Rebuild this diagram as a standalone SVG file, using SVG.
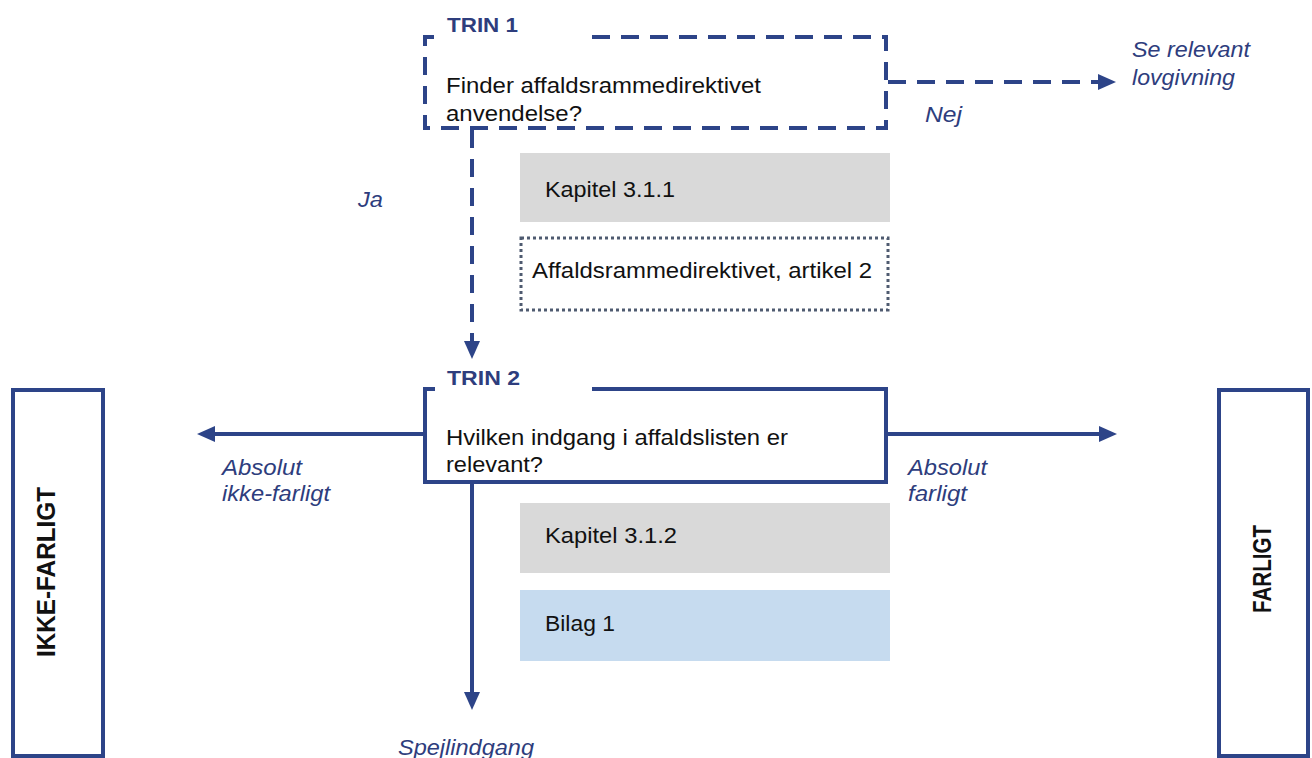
<svg xmlns="http://www.w3.org/2000/svg" width="1312" height="758" viewBox="0 0 1312 758">
  <style>
    .txt { font-family: "Liberation Sans", Arial, sans-serif; font-size: 22px; fill: #111111; }
    .step { font-family: "Liberation Sans", Arial, sans-serif; font-size: 21px; font-weight: bold; fill: #2e3d7d; }
    .lbl { font-family: "Liberation Sans", Arial, sans-serif; font-size: 22px; font-style: italic; fill: #2e3d7d; }
    .side { font-family: "Liberation Sans", Arial, sans-serif; font-size: 25px; font-weight: bold; fill: #111111; }
    .frame { fill: #ffffff; stroke: #2d4488; stroke-width: 4; }
    .edge { fill: none; stroke: #2d4488; stroke-width: 4; }
    .dash { stroke-dasharray: 18 11; }
    .grey { fill: #d9d9d9; }
    .blue { fill: #c6dbef; }
    .dotted { fill: #ffffff; stroke: #4f5b70; stroke-width: 3; stroke-dasharray: 3 3; }
  </style>
  <defs>
    <marker id="head" markerUnits="userSpaceOnUse" markerWidth="18" markerHeight="16" refX="0" refY="8" orient="auto" viewBox="0 0 18 16">
      <path d="M0,0 L18,8 L0,16 Z" fill="#2d4488"/>
    </marker>
  </defs>

  <rect width="1312" height="758" fill="#ffffff"/>

  <!-- outcome columns -->
  <g id="ikke-farligt">
    <rect class="frame" x="13" y="390" width="90" height="366"/>
    <text class="side" transform="translate(55,572) rotate(-90)" text-anchor="middle" textLength="170" lengthAdjust="spacingAndGlyphs">IKKE-FARLIGT</text>
  </g>
  <g id="farligt">
    <rect class="frame" x="1219" y="390" width="89" height="366"/>
    <text class="side" transform="translate(1271,569) rotate(-90)" text-anchor="middle" textLength="88" lengthAdjust="spacingAndGlyphs">FARLIGT</text>
  </g>

  <!-- step 1 -->
  <g id="trin1">
    <path class="edge dash" d="M592,37 H886 V128 H425 V37 H435"/>
    <text class="step" x="447" y="32" textLength="71" lengthAdjust="spacingAndGlyphs">TRIN 1</text>
    <text class="txt" x="446" y="93" textLength="315" lengthAdjust="spacingAndGlyphs">Finder affaldsrammedirektivet</text>
    <text class="txt" x="446" y="121" textLength="136" lengthAdjust="spacingAndGlyphs">anvendelse?</text>
  </g>
  <g id="kapitel-311">
    <rect class="grey" x="520" y="153" width="370" height="69"/>
    <text class="txt" x="545" y="197" textLength="130" lengthAdjust="spacingAndGlyphs">Kapitel 3.1.1</text>
  </g>
  <g id="artikel-2">
    <rect class="dotted" x="521" y="238" width="367" height="72"/>
    <text class="txt" x="532" y="278" textLength="340" lengthAdjust="spacingAndGlyphs">Affaldsrammedirektivet, artikel 2</text>
  </g>

  <!-- step 2 -->
  <g id="trin2">
    <path class="edge" d="M592,389 H886 V482 H425 V389 H435"/>
    <text class="step" x="447" y="385" textLength="73" lengthAdjust="spacingAndGlyphs">TRIN 2</text>
    <text class="txt" x="446" y="445" textLength="342" lengthAdjust="spacingAndGlyphs">Hvilken indgang i affaldslisten er</text>
    <text class="txt" x="446" y="472" textLength="97" lengthAdjust="spacingAndGlyphs">relevant?</text>
  </g>
  <g id="kapitel-312">
    <rect class="grey" x="520" y="503" width="370" height="70"/>
    <text class="txt" x="545" y="543" textLength="132" lengthAdjust="spacingAndGlyphs">Kapitel 3.1.2</text>
  </g>
  <g id="bilag-1">
    <rect class="blue" x="520" y="590" width="370" height="71"/>
    <text class="txt" x="545" y="631" textLength="70" lengthAdjust="spacingAndGlyphs">Bilag 1</text>
  </g>

  <!-- connectors -->
  <g id="connectors">
    <line class="edge dash" x1="888" y1="82" x2="1098" y2="82" stroke-dasharray="16 12" marker-end="url(#head)"/>
    <line class="edge dash" x1="472" y1="130" x2="472" y2="341" stroke-dasharray="18 13" marker-end="url(#head)"/>
    <line class="edge" x1="425" y1="434" x2="215" y2="434" marker-end="url(#head)"/>
    <line class="edge" x1="888" y1="434" x2="1099" y2="434" marker-end="url(#head)"/>
    <line class="edge" x1="472" y1="482" x2="472" y2="692" marker-end="url(#head)"/>

    <text class="lbl" x="1132" y="57" textLength="118" lengthAdjust="spacingAndGlyphs">Se relevant</text>
    <text class="lbl" x="1132" y="85" textLength="103" lengthAdjust="spacingAndGlyphs">lovgivning</text>
    <text class="lbl" x="925" y="122" textLength="37" lengthAdjust="spacingAndGlyphs">Nej</text>
    <text class="lbl" x="358" y="207" textLength="25" lengthAdjust="spacingAndGlyphs">Ja</text>
    <text class="lbl" x="222" y="475" textLength="80" lengthAdjust="spacingAndGlyphs">Absolut</text>
    <text class="lbl" x="222" y="501" textLength="108" lengthAdjust="spacingAndGlyphs">ikke-farligt</text>
    <text class="lbl" x="908" y="475" textLength="79" lengthAdjust="spacingAndGlyphs">Absolut</text>
    <text class="lbl" x="908" y="501" textLength="59" lengthAdjust="spacingAndGlyphs">farligt</text>
    <text class="lbl" x="398" y="755" textLength="136" lengthAdjust="spacingAndGlyphs">Spejlindgang</text>
  </g>
</svg>
